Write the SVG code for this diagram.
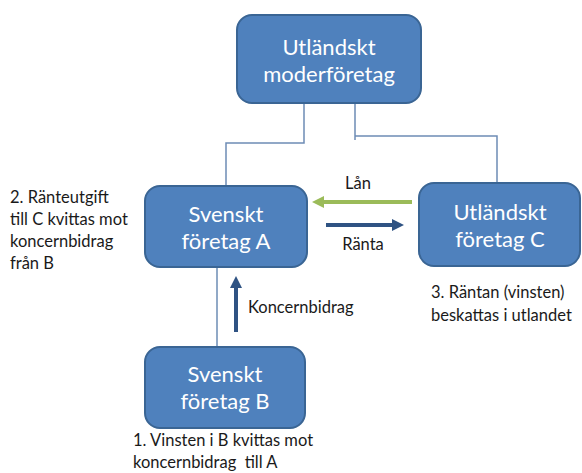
<svg xmlns="http://www.w3.org/2000/svg" width="582" height="473" viewBox="0 0 582 473">
<style>
.box{fill:#4F81BD;stroke:#3A6594;stroke-width:2}
.bt{fill:#fff;font-family:Lato,"Open Sans",sans-serif;font-size:22px;text-anchor:middle}
.lb{fill:#1a1a1a;font-family:Lato,"Open Sans",sans-serif;font-size:16.5px;white-space:pre}
.ln{fill:none;stroke:#6D8CB5;stroke-width:1.5}
</style>
<defs>
<marker id="ag" markerWidth="3" markerHeight="3" refX="1.5" refY="1.5" orient="auto" markerUnits="strokeWidth"><path d="M0,0L3,1.5L0,3z" fill="#9BBB59"/></marker>
<marker id="ab" markerWidth="3" markerHeight="3" refX="1.5" refY="1.5" orient="auto" markerUnits="strokeWidth"><path d="M0,0L3,1.5L0,3z" fill="#2F5383"/></marker>
</defs>
<rect width="582" height="473" fill="#fff"/>
<g id="connectors">
<path class="ln" d="M304,103V143H226V186"/>
<path class="ln" d="M355,103V140M355,136H497V183"/>
<path class="ln" d="M217,267V347"/>
<line x1="412" y1="202" x2="318" y2="202" stroke="#9BBB59" stroke-width="4" marker-end="url(#ag)"/>
<line x1="326" y1="225" x2="398" y2="225" stroke="#2F5383" stroke-width="4" marker-end="url(#ab)"/>
<line x1="236" y1="332" x2="236" y2="282" stroke="#2F5383" stroke-width="4" marker-end="url(#ab)"/>
<text class="lb" x="358" y="189" text-anchor="middle">Lån</text>
<text class="lb" x="363" y="250" text-anchor="middle">Ränta</text>
<text class="lb" x="248" y="313">Koncernbidrag</text>
</g>
<g id="moder">
<rect class="box" x="237" y="15" width="184" height="88" rx="15"/>
<text class="bt" x="329" y="55">Utländskt</text>
<text class="bt" x="329" y="82">moderföretag</text>
</g>
<g id="foretagA">
<rect class="box" x="145" y="186" width="162" height="81" rx="15"/>
<text class="bt" x="226" y="222">Svenskt</text>
<text class="bt" x="226" y="249">företag A</text>
</g>
<g id="foretagC">
<rect class="box" x="419" y="183" width="161" height="83" rx="15"/>
<text class="bt" x="500" y="220">Utländskt</text>
<text class="bt" x="500" y="247">företag C</text>
</g>
<g id="foretagB">
<rect class="box" x="145" y="347" width="160" height="81" rx="15"/>
<text class="bt" x="225" y="382">Svenskt</text>
<text class="bt" x="225" y="409">företag B</text>
</g>
<g id="notes">
<text class="lb" x="10" y="203">2. Ränteutgift</text>
<text class="lb" x="10" y="225">till C kvittas mot</text>
<text class="lb" x="10" y="247">koncernbidrag</text>
<text class="lb" x="10" y="269">från B</text>
<text class="lb" x="431" y="298">3. Räntan (vinsten)</text>
<text class="lb" x="431" y="321">beskattas i utlandet</text>
<text class="lb" x="133" y="446">1. Vinsten i B kvittas mot</text>
<text class="lb" x="133" y="468">koncernbidrag  till A</text>
</g>
</svg>
